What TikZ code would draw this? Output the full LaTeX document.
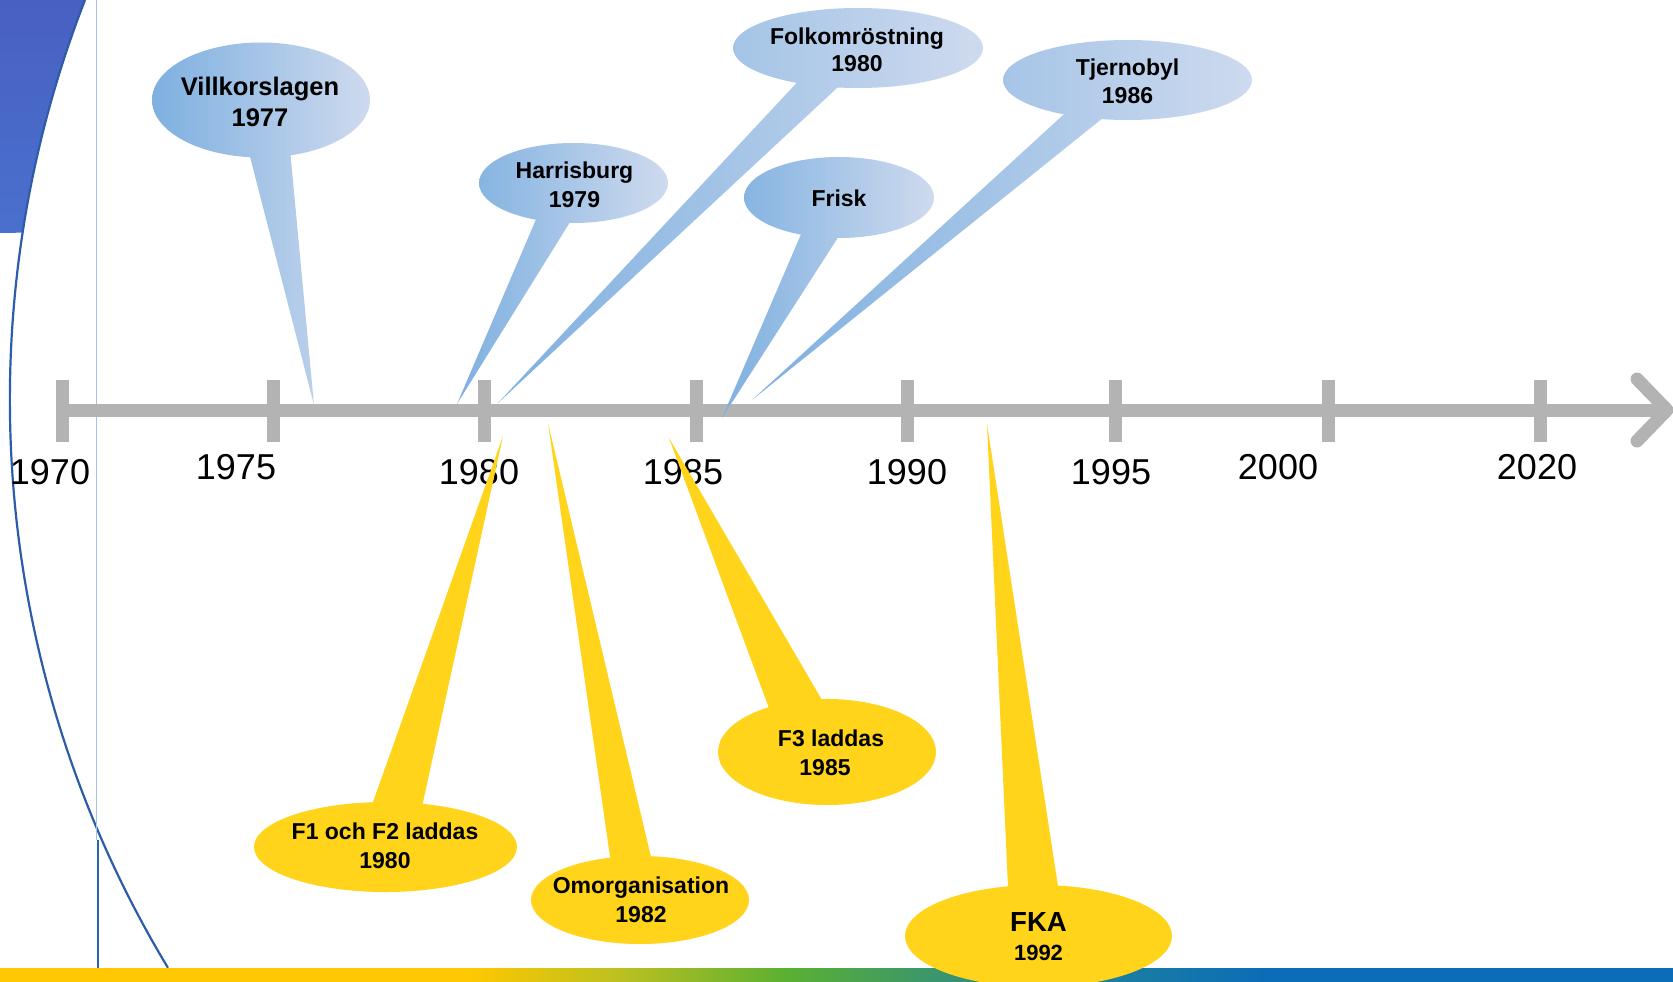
\documentclass[tikz,border=0pt]{standalone}
\usepackage{fontspec}
\setmainfont{Liberation Sans}
\usetikzlibrary{shapes.geometric}
\definecolor{cbL}{RGB}{126,176,224}
\definecolor{cbR}{RGB}{206,218,238}
\definecolor{cyel}{RGB}{255,212,26}
\definecolor{agray}{RGB}{179,179,179}
\definecolor{arcblue}{RGB}{45,92,168}
\definecolor{vlight}{RGB}{165,195,232}
\definecolor{vdark}{RGB}{40,100,180}
\definecolor{cornA}{RGB}{72,96,194}
\definecolor{cornB}{RGB}{86,134,220}
\definecolor{cornC}{RGB}{74,112,206}
\definecolor{barY}{RGB}{255,200,0}
\definecolor{barO}{RGB}{188,192,32}
\definecolor{barG}{RGB}{90,176,50}
\definecolor{barT}{RGB}{42,138,136}
\definecolor{barT2}{RGB}{28,127,160}
\definecolor{barB}{RGB}{11,108,184}
\pgfdeclarehorizontalshading{bottombar}{100bp}{color(0bp)=(barY); color(25bp)=(barY); color(39bp)=(barY); color(43.5bp)=(barO); color(48.5bp)=(barG); color(55bp)=(barT); color(58bp)=(barT2); color(63bp)=(barB); color(75bp)=(barB); color(100bp)=(barB)}
\begin{document}
\begin{tikzpicture}[x=1pt,y=-1pt,
  axisline/.style={draw=agray, line width=13},
  yearlabel/.style={font=\fontsize{36}{43}\selectfont, inner sep=0},
  calltext/.style={font=\bfseries\fontsize{23}{28}\selectfont, align=center, inner sep=0},
  bluecall/.style={left color=cbL, right color=cbR},
  yellowcall/.style={fill=cyel}]
\useasboundingbox (0,0) rectangle (1673,982);
\fill[white] (0,0) rectangle (1673,982);
% corner decoration
\shade[top color=cornA, middle color=cornB, bottom color=cornC]
  (0,0) -- (85,0) arc[start angle=201.3, end angle=188.73, radius=1100] -- (0,233) -- cycle;
\draw[arcblue, line width=2.2] (85,0) arc[start angle=201.3, end angle=148.9, radius=1100];
\draw[vlight, line width=1] (96.5,0) -- (96.5,840);
\draw[vdark, line width=2] (97.5,840) -- (97.5,968);
\shade[shading=bottombar] (0,968) rectangle (1673,982);
% axis
\draw[axisline] (62,410) -- (1664,410);
\foreach \x in {62.5,273,484.7,696,907,1115,1328,1540}
  \draw[axisline] (\x,380) -- (\x,442);
\draw[axisline, line cap=round, line join=round] (1637,379) -- (1667,410) -- (1637,441);
% year labels
\node[yearlabel] (y1970) at (50,472) {1970};
\node[yearlabel] (y1975) at (236,467) {1975};
\node[yearlabel] (y1980) at (479,472) {1980};
\node[yearlabel] (y1985) at (683,472) {1985};
\node[yearlabel] (y1990) at (907,472) {1990};
\node[yearlabel] (y1995) at (1111,472) {1995};
\node[yearlabel] (y2000) at (1278,467) {2000};
\node[yearlabel] (y2020) at (1537,467) {2020};
% blue callouts
\shade[bluecall] (152,100) (370,100) (261,100) ellipse[x radius=109, y radius=57.5];
\shade[bluecall] (152,100) (370,100) (247,145) -- (314,405) -- (289.6,145) -- cycle;
\shade[bluecall] (457,183) (668,183) (573.5,183) ellipse[x radius=94.5, y radius=40];
\shade[bluecall] (457,183) (668,183) (540,210) -- (457,404) -- (577.5,210) -- cycle;
\shade[bluecall] (498,48) (983,48) (858,48) ellipse[x radius=125, y radius=40];
\shade[bluecall] (498,48) (983,48) (804,75) -- (498,403) -- (851,75) -- cycle;
\shade[bluecall] (722,197.5) (934,197.5) (839,197.5) ellipse[x radius=95, y radius=40.5];
\shade[bluecall] (722,197.5) (934,197.5) (805,225) -- (722,418) -- (846,225) -- cycle;
\shade[bluecall] (752,80) (1252,80) (1127.5,80) ellipse[x radius=124.5, y radius=40];
\shade[bluecall] (752,80) (1252,80) (1074,105) -- (752,400) -- (1119,105) -- cycle;
% yellow callouts
\fill[yellowcall] (385.5,847) ellipse[x radius=131.5, y radius=45];
\fill[yellowcall] (368.4,815) -- (503,436) -- (420.2,815) -- cycle;
\fill[yellowcall] (640,900) ellipse[x radius=109, y radius=44];
\fill[yellowcall] (611.9,870) -- (548,423) -- (654.1,870) -- cycle;
\fill[yellowcall] (827,752) ellipse[x radius=109, y radius=53];
\fill[yellowcall] (770.4,712) -- (669,438) -- (829,712) -- cycle;
\fill[yellowcall] (1038.5,936) ellipse[x radius=133.5, y radius=51];
\fill[yellowcall] (1008.5,898) -- (987,424) -- (1059.8,898) -- cycle;
% texts
\node[calltext, font=\bfseries\fontsize{25.5}{31}\selectfont] (villkor) at (260,101.5) {Villkorslagen\\1977};
\node[calltext, font=\bfseries\fontsize{23}{29}\selectfont] (harris) at (574.5,184.5) {Harrisburg\\1979};
\node[calltext, font=\bfseries\fontsize{23}{27}\selectfont] (folk) at (857,50) {Folkomröstning\\1980};
\node[calltext] (frisk) at (839,198) {Frisk};
\node[calltext] (tjern) at (1127.5,81.5) {Tjernobyl\\1986};
\node[calltext, font=\bfseries\fontsize{23}{29}\selectfont] (f1f2) at (385,846) {F1 och F2 laddas\\1980};
\node[calltext, font=\bfseries\fontsize{23}{29}\selectfont] (omorg) at (641,900) {Omorganisation\\1982};
\node[calltext, font=\bfseries\fontsize{23}{29}\selectfont] (f3) at (825,752.5) {\hspace*{12pt}F3 laddas\\1985};
\node[font=\bfseries\fontsize{27.6}{33}\selectfont, anchor=base, inner sep=0] (fka) at (1038.5,931.7) {FKA};
\node[font=\bfseries\fontsize{22}{26}\selectfont, anchor=base, inner sep=0] (fkayear) at (1038.5,960) {1992};
\end{tikzpicture}
\end{document}
